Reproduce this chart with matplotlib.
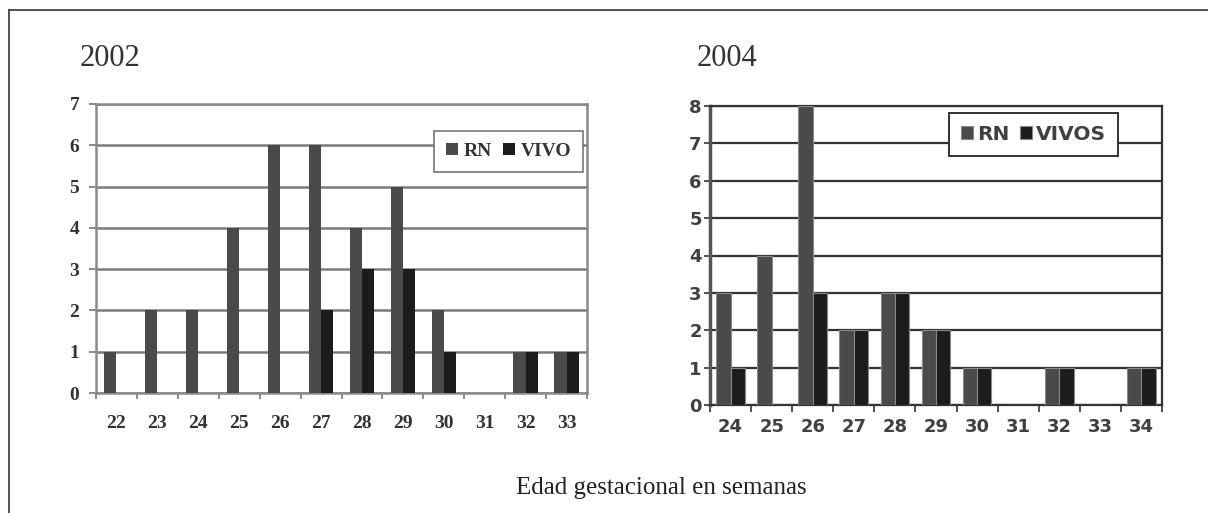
import numpy as np
import matplotlib.pyplot as plt
from matplotlib.lines import Line2D

# datos 2002
semanas_2002 = ["22", "23", "24", "25", "26", "27", "28", "29", "30", "31", "32", "33"]
rn_2002 = [1, 2, 2, 4, 6, 6, 4, 5, 2, 0, 1, 1]
vivo_2002 = [0, 0, 0, 0, 0, 2, 3, 3, 1, 0, 1, 1]

# datos 2004
semanas_2004 = ["24", "25", "26", "27", "28", "29", "30", "31", "32", "33", "34"]
rn_2004 = [3, 4, 8, 2, 3, 2, 1, 0, 1, 0, 1]
vivos_2004 = [1, 0, 3, 2, 3, 2, 1, 0, 1, 0, 1]

gris = "#4a4a4a"
negro = "#1c1c1c"

fig = plt.figure(figsize=(12.08, 5.13), dpi=100)

# marco exterior (solo arriba e izquierda visibles)
fig.add_artist(Line2D([9 / 1208, 1], [1 - 10 / 513, 1 - 10 / 513], color="#444444", lw=1.3))
fig.add_artist(Line2D([9 / 1208, 9 / 1208], [0, 1 - 10 / 513], color="#444444", lw=1.3))

# =========================
# GRAFICO 2002
# =========================
ax1 = fig.add_axes([96 / 1208, 1 - 393 / 513, 491 / 1208, 289 / 513])
x1 = np.arange(len(semanas_2002))
w1 = 0.3
ax1.bar(x1 - w1 / 2, rn_2002, w1, color=gris, label="RN", zorder=3)
ax1.bar(x1 + w1 / 2, vivo_2002, w1, color=negro, label="VIVO", zorder=3)
ax1.set_xlim(-0.5, len(semanas_2002) - 0.5)
ax1.set_ylim(0, 7)
ax1.set_yticks(range(0, 8))
ax1.set_xticks(x1)
ax1.set_xticks(np.arange(-0.5, len(semanas_2002)), minor=True)
ax1.set_xticklabels(semanas_2002)
ax1.tick_params(axis="x", which="major", length=0, pad=16)
ax1.tick_params(axis="x", which="minor", length=4, color="#777777", width=1.2)
ax1.tick_params(axis="y", length=5, color="#777777", width=1.2, pad=7)
for lab in ax1.get_xticklabels() + ax1.get_yticklabels():
    lab.set_family("Liberation Serif")
    lab.set_fontweight("bold")
    lab.set_fontsize(14)
    lab.set_color("#333333")
ax1.yaxis.grid(True, color="#7a7a7a", lw=1.8, zorder=1)
for s in ax1.spines.values():
    s.set_color("#8a8a8a")
    s.set_linewidth(1.8)
leg1 = ax1.legend(loc="upper right", bbox_to_anchor=(0.992, 0.906), ncol=2,
                  fancybox=False, edgecolor="#777777", framealpha=1,
                  handlelength=0.6, handleheight=0.6, handletextpad=0.3,
                  columnspacing=0.6, borderpad=0.6, borderaxespad=0,
                  prop={"family": "Liberation Serif", "weight": "bold", "size": 14})
leg1.get_frame().set_linewidth(1.2)
for t in leg1.get_texts():
    t.set_color("#333333")

# =========================
# GRAFICO 2004
# =========================
ax2 = fig.add_axes([710 / 1208, 1 - 405 / 513, 452 / 1208, 299 / 513])
x2 = np.arange(len(semanas_2004))
w2 = 0.35
ax2.bar(x2 - w2 / 2, rn_2004, w2, color=gris, edgecolor="#888888", lw=0.8, label="RN", zorder=3)
ax2.bar(x2 + w2 / 2, vivos_2004, w2, color=negro, edgecolor="#888888", lw=0.8, label="VIVOS", zorder=3)
ax2.set_xlim(-0.5, len(semanas_2004) - 0.5)
ax2.set_ylim(0, 8)
ax2.set_yticks(range(0, 9))
ax2.set_xticks(x2)
ax2.set_xticks(np.arange(-0.5, len(semanas_2004)), minor=True)
ax2.set_xticklabels(semanas_2004)
ax2.tick_params(axis="x", which="major", length=0, pad=9)
ax2.tick_params(axis="x", which="minor", length=5, color="#333333", width=1.2)
ax2.tick_params(axis="y", length=4, color="#333333", width=1.2, pad=2)
for lab in ax2.get_xticklabels() + ax2.get_yticklabels():
    lab.set_family("DejaVu Sans")
    lab.set_fontweight("bold")
    lab.set_fontsize(13)
    lab.set_color("#404040")
ax2.yaxis.grid(True, color="#333333", lw=1.6, zorder=1)
for s in ax2.spines.values():
    s.set_color("#333333")
    s.set_linewidth(1.6)
ax2.spines["left"].set_color("#555555")
ax2.spines["left"].set_linewidth(2.5)
leg2 = ax2.legend(loc="upper right", bbox_to_anchor=(0.903, 0.977), ncol=2,
                  fancybox=False, edgecolor="#333333", framealpha=1,
                  handlelength=0.6, handleheight=0.6, handletextpad=0.2,
                  columnspacing=0.5, borderpad=0.6, borderaxespad=0,
                  prop={"family": "DejaVu Sans", "weight": "bold", "size": 14.5})
leg2.get_frame().set_linewidth(1.4)
for t in leg2.get_texts():
    t.set_color("#404040")

# titulos y etiqueta comun
fig.text(80 / 1208, 1 - 58 / 513, "2002", family="Liberation Serif", fontsize=22,
         color="#333333", va="center", ha="left")
fig.text(697 / 1208, 1 - 58 / 513, "2004", family="Liberation Serif", fontsize=22,
         color="#333333", va="center", ha="left")
fig.text(661 / 1208, 1 - 488 / 513, "Edad gestacional en semanas",
         family="Liberation Serif", fontsize=18, color="#222222", va="center", ha="center")

fig.savefig("out.png", dpi=100)
